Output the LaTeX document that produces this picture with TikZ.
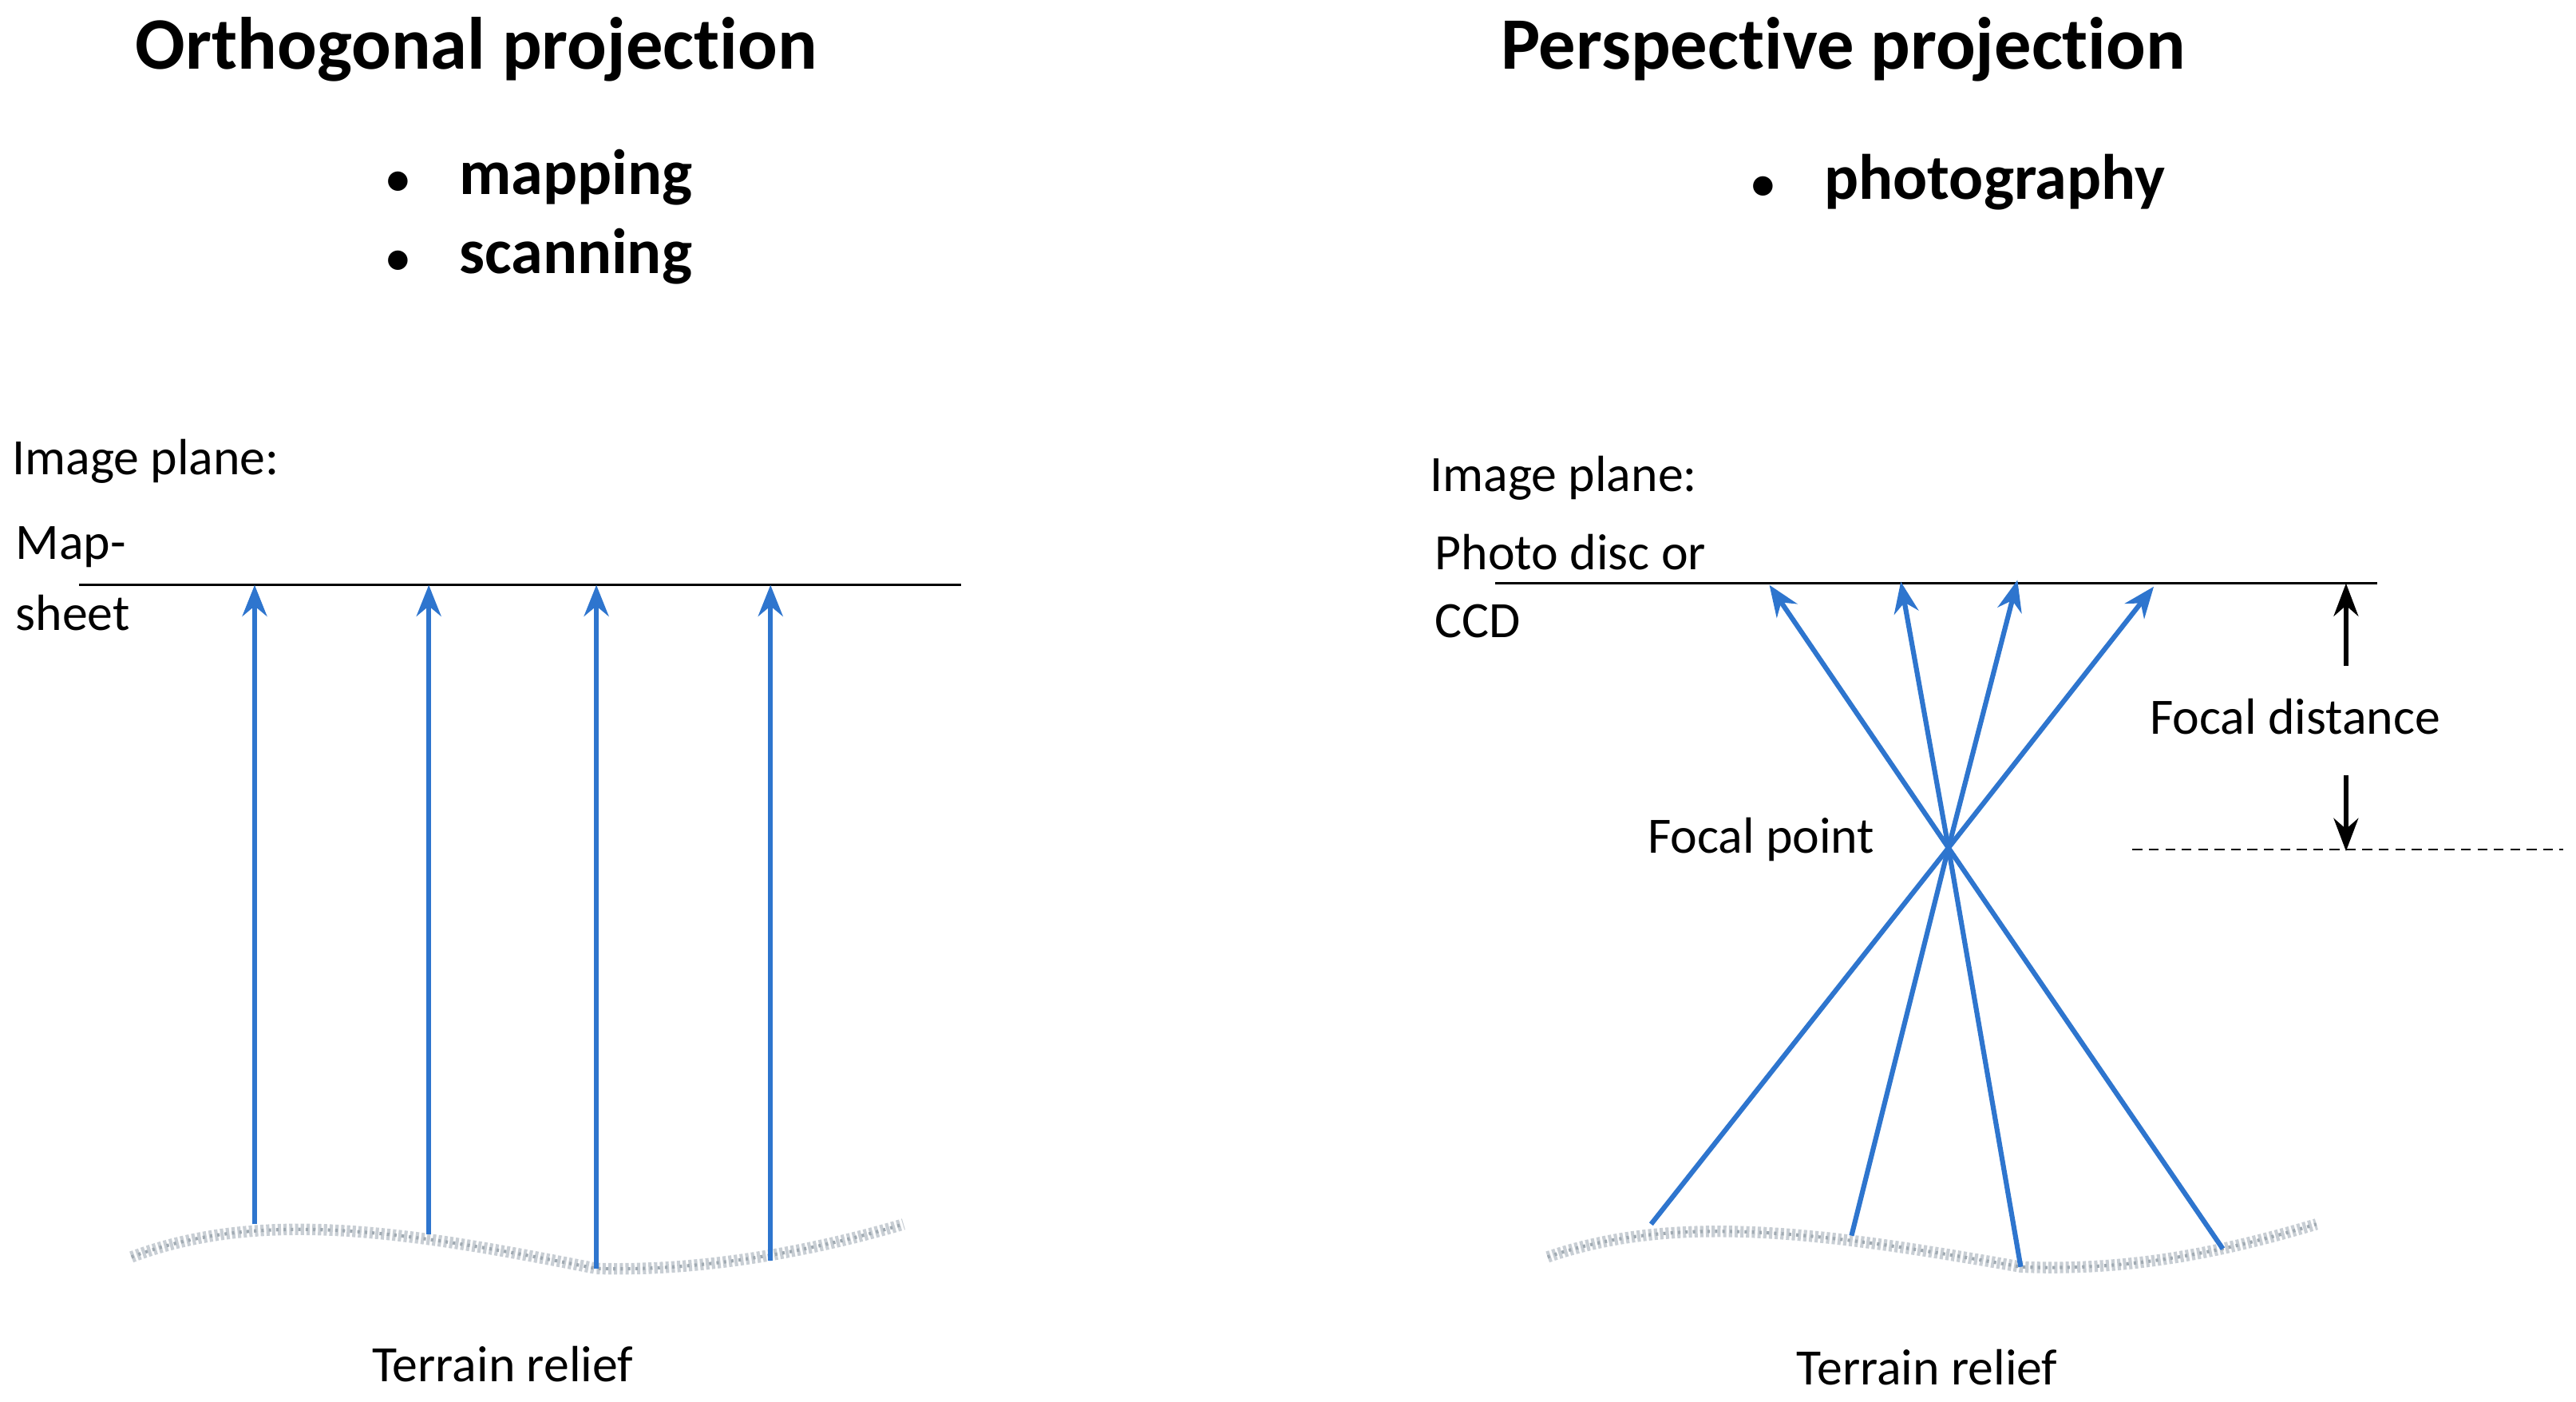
\documentclass[tikz,border=0pt]{standalone}
\usepackage{fontspec}
\setmainfont[Ligatures={NoCommon}]{Carlito}
\usetikzlibrary{arrows.meta}
\definecolor{ray}{RGB}{46,117,206}
\definecolor{soil}{RGB}{200,206,212}
\definecolor{soild}{RGB}{160,170,178}
\begin{document}
\begin{tikzpicture}[x=1pt,y=-1pt,
  title/.style={font=\fontsize{45}{48}\selectfont\bfseries},
  bul/.style={font=\fontsize{39}{42}\selectfont\bfseries,anchor=west},
  lab/.style={font=\fontsize{31}{34}\selectfont,anchor=west},
  raya/.style={ray,line width=3pt,-{Stealth[length=19pt,width=15pt]}},
  rayb/.style={ray,line width=3pt},
  blk/.style={black,line width=2.6pt,-{Stealth[length=20pt,width=15pt]}},
  terrain/.style={soil,line width=7pt,dash pattern=on 2pt off 1.5pt},
  terraind/.style={soild,line width=2pt,dash pattern=on 1.5pt off 3pt},
  plane/.style={black,line width=1.4pt}]
\useasboundingbox (0,0) rectangle (1568,853);
% left
\node[title] (t1) at (290,30) {Orthogonal projection};
\node[bul] (b1a) at (232,108) {{\fontsize{28}{30}\selectfont•}\hspace{30pt}mapping};
\node[bul] (b1b) at (232,156) {{\fontsize{28}{30}\selectfont•}\hspace{30pt}scanning};
\node[lab] (ip1) at (4,281) {Image plane:};
\node[lab] (ms1) at (6,333) {Map-};
\node[lab] (ms2) at (6,373) {sheet};
\node[lab,anchor=center] (tr1) at (306,830) {Terrain relief};
\coordinate (L1) at (48,356); \coordinate (L2) at (585,356);
\draw[plane] (L1) -- (L2);
\foreach \s in {terrain,terraind}
\draw[\s] (80,765) .. controls (160,735) and (250,750) .. (363,772) .. controls (430,774) and (500,760) .. (550,745);
\foreach \x/\y [count=\i] in {155/745,261/751,363/772,469/767}{
  \coordinate (ob\i) at (\x,\y); \coordinate (ot\i) at (\x,356);
  \draw[raya] (ob\i) -- (ot\i);}
% right
\node[title] (t2) at (1122,30) {Perspective projection};
\node[bul] (b2) at (1063,111) {{\fontsize{28}{30}\selectfont•}\hspace{30pt}photography};
\node[lab] (ip2) at (867,291) {Image plane:};
\node[lab] (pd1) at (870,336) {Photo disc or};
\node[lab] (pd2) at (870,378) {CCD};
\node[lab,anchor=center] (tr2) at (1173,832) {Terrain relief};
\node[lab,anchor=center] (fp) at (1072,511) {Focal point};
\node[lab,anchor=center] (fd) at (1397,436) {Focal distance};
\coordinate (R1) at (910,355); \coordinate (R2) at (1447,355);
\draw[plane] (R1) -- (R2);
\coordinate (F) at (1186,516);
\foreach \s in {terrain,terraind}
\draw[\s] (942,765) .. controls (1020,738) and (1110,750) .. (1230,771) .. controls (1300,774) and (1360,760) .. (1410,745);
\foreach \bx/\by/\tx/\ty [count=\i] in {1005/745/1077/356,1127/752/1157/354,1230/771/1228/353,1353/760/1311/357}{
  \coordinate (pb\i) at (\bx,\by); \coordinate (pt\i) at (\tx,\ty);
  \draw[rayb] (pb\i) -- (F);
  \draw[raya] (F) -- (pt\i);}
\coordinate (d1) at (1298,517); \coordinate (d2) at (1560,517);
\draw[black,line width=1.4pt,dash pattern=on 6pt off 4pt] (d1) -- (d2);
\coordinate (a1) at (1428,405); \coordinate (a2) at (1428,355);
\coordinate (a3) at (1428,472); \coordinate (a4) at (1428,518);
\draw[blk] (a1) -- (a2);
\draw[blk] (a3) -- (a4);
\end{tikzpicture}
\end{document}
